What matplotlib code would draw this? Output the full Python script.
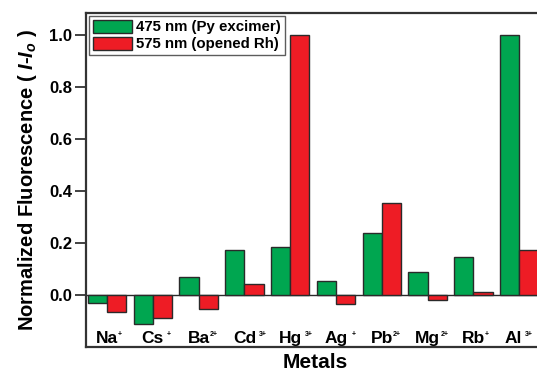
import matplotlib
matplotlib.use("Agg")
import matplotlib.pyplot as plt
import numpy as np

plt.rcParams['font.family'] = ['Liberation Sans', 'DejaVu Sans']
plt.rcParams['font.weight'] = 'bold'
plt.rcParams['mathtext.fontset'] = 'custom'
plt.rcParams['mathtext.rm'] = 'Liberation Sans:bold'
plt.rcParams['mathtext.it'] = 'Liberation Sans:bold:italic'
plt.rcParams['mathtext.bf'] = 'Liberation Sans:bold'

# metal ions and their charges
metals = ["Na", "Cs", "Ba", "Cd", "Hg", "Ag", "Pb", "Mg", "Rb", "Al"]
charges = ["+", "+", "2+", "3+", "3+", "+", "2+", "2+", "+", "3+"]
sup_gap = [0, 2, 0, 2, 2, 3, 0, 0, 0, 1.5]
name_shift = [0, 0, 0, 0, 0, 0, 0, 0, 0, -0.12]

# normalized fluorescence at each wavelength
py_475 = [-0.03, -0.11, 0.068, 0.175, 0.185, 0.055, 0.24, 0.09, 0.147, 1.0]
rh_575 = [-0.064, -0.089, -0.054, 0.043, 1.0, -0.035, 0.355, -0.019, 0.013, 0.175]

green = "#00a650"
red = "#ee1c25"
edge = "#2a2a2a"

fig = plt.figure(figsize=(5.37, 3.74), dpi=100)
ax = fig.add_axes([86 / 537, 1 - 347 / 374, (560 - 86) / 537, (347 - 13) / 374])

x = np.arange(len(metals))
w = 0.42
ax.bar(x - w / 2, py_475, w, color=green, edgecolor=edge, linewidth=1.0,
       label="475 nm (Py excimer)")
ax.bar(x + w / 2, rh_575, w, color=red, edgecolor=edge, linewidth=1.0,
       label="575 nm (opened Rh)")
ax.axhline(0, color=edge, linewidth=1.0, zorder=0.5)

ax.set_xlim(-0.46, 9.89)
ax.set_ylim(-0.2, 1.085)
ax.set_yticks([0.0, 0.2, 0.4, 0.6, 0.8, 1.0])
ax.set_yticklabels(["0.0", "0.2", "0.4", "0.6", "0.8", "1.0"])
ax.set_xticks([])
ax.tick_params(axis='y', direction='out', length=8, width=1.3, color="#333333",
               labelsize=12, pad=2)
for s in ax.spines.values():
    s.set_linewidth(1.6)
    s.set_color("#333333")

# metal names drawn inside the plot, charges as small superscripts
for i, (m, c) in enumerate(zip(metals, charges)):
    t = ax.text(i + name_shift[i], -0.183, m, ha='center', va='baseline',
                fontsize=12.5, fontweight='bold')
    ax.annotate(c, xy=(1, 1), xycoords=t, xytext=(sup_gap[i], -0.5),
                textcoords='offset points', ha='left', va='top', fontsize=5,
                fontweight='bold')

ax.set_ylabel(r"Normalized Fluorescence ( $\mathit{I}$-$\mathit{I_o}$ )",
              fontsize=14.5, fontweight='bold', labelpad=7)
fig.text(315 / 537, 2 / 374, "Metals", ha='center', va='bottom', fontsize=15,
         fontweight='bold')

leg = ax.legend(loc='upper left', bbox_to_anchor=(0, 1), fontsize=10.8,
                frameon=True, fancybox=False, borderaxespad=0.2,
                handlelength=2.6, handleheight=0.95, handletextpad=0.3,
                borderpad=0.25, labelspacing=0.15)
leg.get_frame().set_edgecolor("#333333")
leg.get_frame().set_linewidth(1.0)

fig.savefig("out.png", dpi=100)
